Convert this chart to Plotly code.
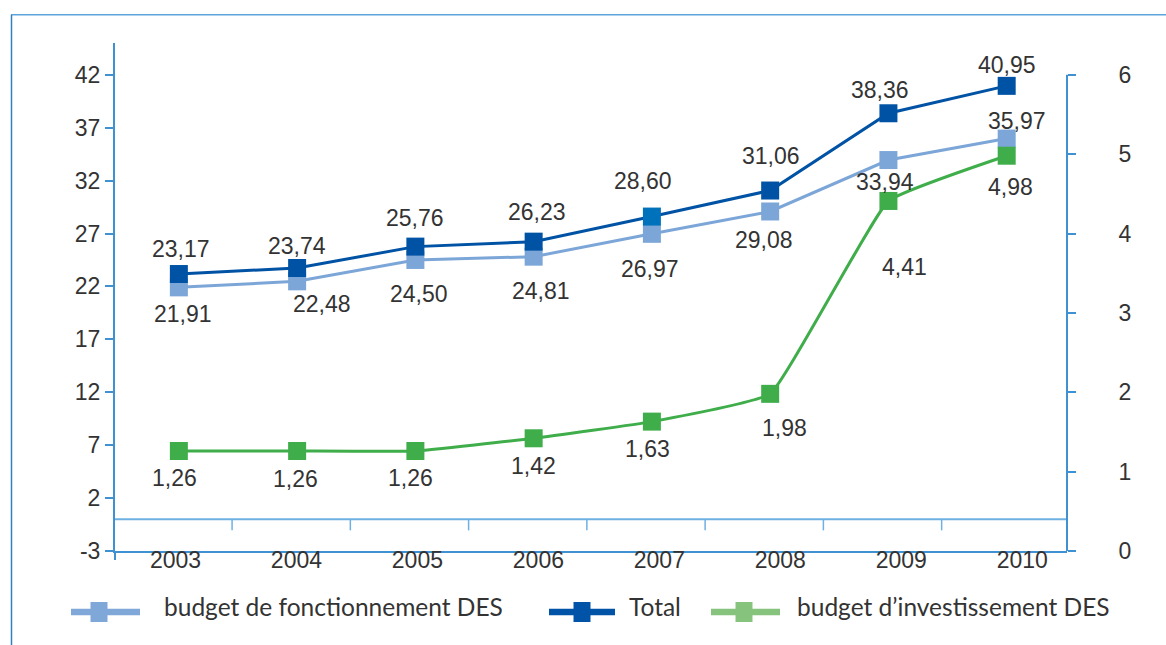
import plotly.graph_objects as go

# ---------------- data ----------------
years = ["2003", "2004", "2005", "2006", "2007", "2008", "2009", "2010"]
fonctionnement = [21.91, 22.48, 24.50, 24.81, 26.97, 29.08, 33.94, 35.97]
total = [23.17, 23.74, 25.76, 26.23, 28.60, 31.06, 38.36, 40.95]
investissement = [1.26, 1.26, 1.26, 1.42, 1.63, 1.98, 4.41, 4.98]
left_ticks = [-3, 2, 7, 12, 17, 22, 27, 32, 37, 42]
right_ticks = [0, 1, 2, 3, 4, 5, 6]
series_names = ["budget de fonctionnement DES", "Total", "budget d\u2019investissement DES"]

# ---------------- styles ----------------
W, H = 1166, 645
ML, MR, MT, MB = 115, 99, 43, 94
C_LIGHT = "#7ca6d8"
C_DARK = "#0053a4"
C_DARK_2007 = "#0072bc"
C_GREEN = "#3fae4a"
LEG_COLORS = ["#7fa8d9", "#0053a6", "#86c47d"]
AX = "#3f91d2"
TXT = "#333333"
FONT = "Liberation Sans, Arial, sans-serif"

# label offsets in pixels (x right, y up)
tot_dx = [2, 0, 0, 3, -9, 1, -8, 0]
tot_dy = [25, 22, 29, 30, 36, 35, 23, 21]
fon_dx = [4, 25, 4, 7, -2, -6, -3, 10]
fon_dy = [-27, -23, -34, -34, -35, -29, -22, 18]
inv_dx = [-4, -2, -5, 0, -4, 14, 16, 4]
inv_dy = [-27, -28, -27, -28, -27, -34, -66, -31]


def pxx(x):
    return (x - ML) / (W - ML - MR)


def pxy(y):
    return (H - MB - y) / (H - MT - MB)


def fr(v):
    return f"{v:.2f}".replace(".", ",")


xi = list(range(len(years)))

fig = go.Figure()

fig.add_trace(go.Scatter(
    x=xi, y=fonctionnement, name=series_names[0], mode="lines+markers",
    line=dict(color=C_LIGHT, width=3),
    marker=dict(symbol="square", size=18, color=C_LIGHT),
    showlegend=False, hoverinfo="skip"))

fig.add_trace(go.Scatter(
    x=xi, y=investissement, name=series_names[2], mode="lines+markers",
    yaxis="y2",
    line=dict(color=C_GREEN, width=3, shape="spline", smoothing=0.3),
    marker=dict(symbol="square", size=18, color=C_GREEN),
    showlegend=False, hoverinfo="skip"))

dark_colors = [C_DARK_2007 if y == "2007" else C_DARK for y in years]
fig.add_trace(go.Scatter(
    x=xi, y=total, name=series_names[1], mode="lines+markers",
    line=dict(color=C_DARK, width=3),
    marker=dict(symbol="square", size=18, color=dark_colors),
    showlegend=False, hoverinfo="skip"))

# invisible trace carrying the year labels axis
fig.add_trace(go.Scatter(
    x=xi, y=[None] * len(xi), xaxis="x2", mode="markers",
    showlegend=False, hoverinfo="skip"))

annotations = []
lab_font = dict(family=FONT, size=23, color=TXT)
for vals, dxs, dys, yref in [(total, tot_dx, tot_dy, "y"),
                             (fonctionnement, fon_dx, fon_dy, "y"),
                             (investissement, inv_dx, inv_dy, "y2")]:
    for i, v in enumerate(vals):
        annotations.append(dict(
            x=xi[i], y=v, xref="x", yref=yref, text=fr(v), showarrow=False,
            xshift=dxs[i], yshift=dys[i], font=lab_font,
            xanchor="center", yanchor="middle"))

shapes = []
# outer frame
shapes.append(dict(type="line", xref="paper", yref="paper",
                   x0=pxx(11), x1=pxx(1170), y0=pxy(14.7), y1=pxy(14.7),
                   line=dict(color="#5ea5dc", width=1.5)))
shapes.append(dict(type="line", xref="paper", yref="paper",
                   x0=pxx(11.5), x1=pxx(11.5), y0=pxy(14.7), y1=pxy(650),
                   line=dict(color="#2f7fc2", width=1.5)))
# zero line with category boundary ticks
shapes.append(dict(type="line", xref="paper", yref="y", x0=0, x1=1, y0=0, y1=0,
                   line=dict(color="#6fb0e2", width=2)))
for i in range(len(years) - 1):
    shapes.append(dict(type="line", xref="x", yref="y",
                       x0=i + 0.45, x1=i + 0.45, y0=0, y1=-1.05,
                       line=dict(color="#6fb0e2", width=1.5)))
# right axis line only from 0 to 6
shapes.append(dict(type="line", xref="paper", yref="y2", x0=1, x1=1,
                   y0=right_ticks[0], y1=right_ticks[-1],
                   line=dict(color=AX, width=2)))
# small extension of left axis below the bottom line
shapes.append(dict(type="line", xref="paper", yref="paper", x0=0, x1=0,
                   y0=pxy(551), y1=pxy(560), line=dict(color=AX, width=2)))

# manual legend
leg_lines = [(71, 140), (549, 615), (711, 780)]
leg_sq = [99, 582, 744]
leg_txt = [162, 627, 795]
LEG_Y = 612
for k in range(3):
    shapes.append(dict(type="line", xref="paper", yref="paper",
                       x0=pxx(leg_lines[k][0]), x1=pxx(leg_lines[k][1]),
                       y0=pxy(LEG_Y), y1=pxy(LEG_Y),
                       line=dict(color=LEG_COLORS[k], width=6.5)))
    shapes.append(dict(type="rect", xref="paper", yref="paper",
                       x0=pxx(leg_sq[k] - 8.5), x1=pxx(leg_sq[k] + 8.5),
                       y0=pxy(LEG_Y - 10), y1=pxy(LEG_Y + 10),
                       fillcolor=LEG_COLORS[k], line=dict(width=0)))
    annotations.append(dict(
        x=pxx(leg_txt[k]), y=pxy(606), xref="paper", yref="paper",
        text=series_names[k], showarrow=False, xanchor="left", yanchor="middle",
        font=dict(family="Lato, sans-serif", size=24.5, color=TXT)))

fig.update_layout(
    width=W, height=H,
    margin=dict(l=ML, r=MR, t=MT, b=MB, pad=0),
    paper_bgcolor="white", plot_bgcolor="white",
    showlegend=False,
    xaxis=dict(range=[-0.54, 7.51], tickvals=xi, showticklabels=False,
               showgrid=False, zeroline=False,
               showline=True, linecolor=AX, linewidth=2, ticks="",
               fixedrange=True),
    xaxis2=dict(range=[-0.5, 7.37], tickvals=xi, ticktext=years,
                overlaying="x", side="bottom", anchor="y",
                showgrid=False, zeroline=False, showline=False, ticks="",
                ticklabelstandoff=-7,
                tickfont=dict(family=FONT, size=23, color=TXT), fixedrange=True),
    yaxis=dict(range=[-3, 45], tickvals=left_ticks,
               ticktext=[str(v) for v in left_ticks],
               showgrid=False, zeroline=False,
               showline=True, linecolor=AX, linewidth=2, ticks="outside",
               ticklen=8, tickwidth=1.5, tickcolor=AX,
               tickfont=dict(family=FONT, size=23, color=TXT), fixedrange=True),
    yaxis2=dict(range=[0, 6.4], tickvals=right_ticks, overlaying="y", side="right",
                showgrid=False, zeroline=False, showline=False,
                ticks="outside", ticklen=8, tickwidth=1.5, tickcolor=AX,
                ticklabelstandoff=38,
                tickfont=dict(family=FONT, size=23, color=TXT), fixedrange=True),
    shapes=shapes, annotations=annotations,
)

fig.write_html("out.html", config={"displayModeBar": False},
               post_script="document.body.style.margin='0';")
